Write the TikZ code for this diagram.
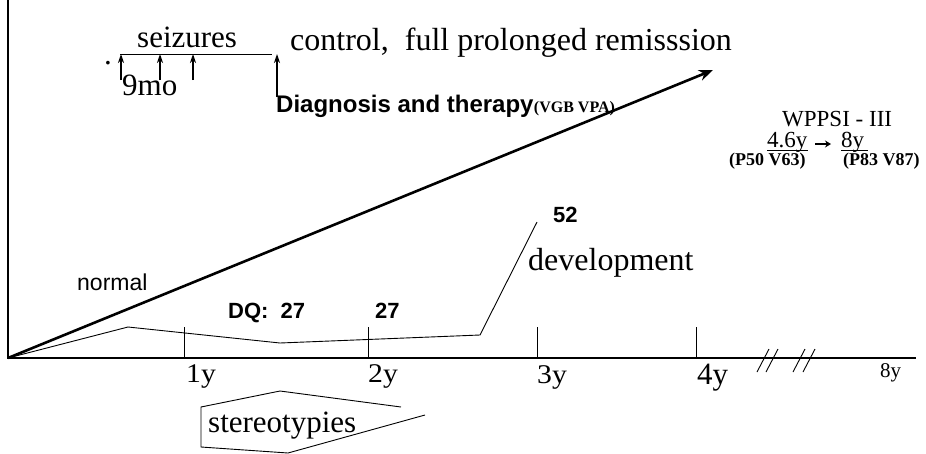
\documentclass[tikz,border=0pt]{standalone}
\usepackage{fontspec}
\setmainfont{Liberation Serif}
\setsansfont{Liberation Sans}
\usetikzlibrary{arrows.meta}
\newcommand{\fsz}[1]{\fontsize{#1}{#1}\selectfont}
\begin{document}
\begin{tikzpicture}[x=1pt,y=-1pt,
  lbl/.style={inner sep=0pt, anchor=base west},
  serifbig/.style={lbl, font=\fsz{31}},
  sanslbl/.style={lbl, font=\sffamily\fsz{23}},
  sansbold/.style={lbl, font=\sffamily\bfseries\fsz{22}},
  finline/.style={line width=0.9pt},
  axisline/.style={line width=1.3pt},
  uparrow/.style={line width=1.3pt, -{Stealth[length=9pt,width=6pt]}},
  bigarrow/.style={line width=2.6pt, -{Stealth[length=14pt,width=11pt]}},
]
\useasboundingbox (0,0) rectangle (926,453);

% axes
\coordinate (ytop) at (8,0);
\coordinate (O) at (8,358);
\coordinate (xend) at (916,358);
\draw[axisline] (ytop) -- (O) -- (xend);

% ticks
\foreach \x/\n in {184/t1,368/t2,537/t3,696/t4}{
  \coordinate (\n top) at (\x,327);
  \coordinate (\n bot) at (\x,358);
  \draw[finline] (\n top) -- (\n bot);
}

% axis labels
\node[lbl, font=\fsz{27}, xscale=1.1] (l1) at (186,382) {1y};
\node[lbl, font=\fsz{27}, xscale=1.1] (l2) at (368,382) {2y};
\node[lbl, font=\fsz{27}, xscale=1.1] (l3) at (537,383) {3y};
\node[lbl, font=\fsz{31}] (l4) at (697,384) {4y};
\node[lbl, font=\fsz{21}] (l8) at (880,377) {8y};

% break marks
\foreach \dx in {0,9,36,46}{
  \draw[finline] (757+\dx,372) -- (769+\dx,349);
}

% normal development arrow
\coordinate (arrowtip) at (713,70);
\draw[bigarrow] (O) -- (arrowtip);
\node[sanslbl] (normal) at (77,290) {normal};

% patient development curve
\coordinate (p1) at (128,327);
\coordinate (p2) at (280,343);
\coordinate (p3) at (480,335);
\coordinate (p4) at (537,222);
\draw[finline] (O) -- (p1) -- (p2) -- (p3) -- (p4);

\node[sansbold] (dq) at (228,318) {DQ:\ \ 27};
\node[sansbold] (dq2) at (375,318) {27};
\node[sansbold] (dq3) at (553,222) {52};
\node[serifbig, font=\fsz{32}] (dev) at (528,270) {development};

% seizures
\coordinate (sz0) at (120,54);
\coordinate (sz1) at (272,54);
\draw[finline] (sz0) -- (sz1);
\node[serifbig] (seiz) at (137,47) {seizures};
\foreach \x/\n in {121/a,160/b,193/c}{
  \coordinate (\n b) at (\x,80);
  \coordinate (\n t) at (\x,54);
  \draw[uparrow] (\n b) -- (\n t);
}
\node[lbl, font=\fsz{31}] (dot) at (104,64) {.};
\node[serifbig] (mo) at (122,95) {9mo};

\coordinate (dgb) at (277,97);
\coordinate (dgt) at (277,54);
\draw[uparrow] (dgb) -- (dgt);
\node[serifbig, font=\fsz{32}] (ctrl) at (290,50) {control,\ \ full prolonged remisssion};
\node[sansbold, font=\sffamily\bfseries\fsz{24}] (diag) at (276,112) {Diagnosis and therapy};
\node[lbl, font=\bfseries\fsz{16}] (vgb) at (diag.base east) {(VGB VPA)};

% WPPSI
\node[lbl, font=\fsz{23}] (wppsi) at (782,126) {WPPSI - III};
\node[lbl, font=\fsz{23}] (a46) at (767,147) {4.6y};
\node[lbl, font=\fsz{23}] (a8) at (841,147) {8y};
\coordinate (u1a) at (767,150);
\coordinate (u1b) at (808,150);
\coordinate (u2a) at (841,150);
\coordinate (u2b) at (868,150);
\draw[line width=0.8pt] (u1a) -- (u1b);
\draw[line width=0.8pt] (u2a) -- (u2b);
\coordinate (arrS) at (815,144);
\coordinate (arrE) at (831,144);
\draw[line width=1.6pt, -{Stealth[length=6pt,width=7pt]}] (arrS) -- (arrE);
\node[lbl, font=\bfseries\fsz{18}] (p50) at (729,165) {(P50 V63)};
\node[lbl, font=\bfseries\fsz{18}] (p83) at (843,165) {(P83 V87)};

% stereotypies
\coordinate (s1) at (401,407);
\coordinate (s2) at (280,391);
\coordinate (s3) at (201,407);
\coordinate (s4) at (201,447);
\coordinate (s5) at (288,453);
\coordinate (s6) at (425,415);
\draw[finline] (s1) -- (s2) -- (s3) -- (s4) -- (s5) -- (s6);
\node[serifbig] (stereo) at (208,432) {stereotypies};
\end{tikzpicture}
\end{document}
